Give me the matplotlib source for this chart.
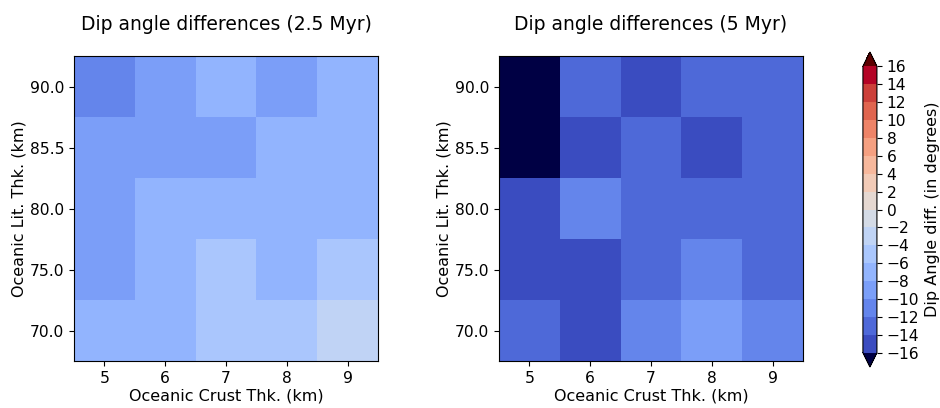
import matplotlib
matplotlib.use('Agg')
import matplotlib.pyplot as plt
import matplotlib.colors as mcolors
import numpy as np

# model grid
crust_thk = [5, 6, 7, 8, 9]
lit_thk = ['70.0', '75.0', '80.0', '85.5', '90.0']

# dip angle differences (deg), rows = lithosphere thickness from 70 up to 90
diff_2p5 = [[-6.9, -7.1, -5.2, -5.0, -3.1],
            [-8.8, -7.0, -5.3, -7.2, -4.9],
            [-8.7, -7.3, -6.8, -7.1, -7.0],
            [-9.1, -8.9, -9.2, -7.1, -6.9],
            [-10.8, -9.0, -6.9, -9.1, -7.0]]
diff_5 = [[-13.1, -14.8, -11.2, -9.3, -11.0],
          [-14.9, -15.1, -13.0, -11.1, -13.2],
          [-14.7, -11.3, -12.9, -13.1, -12.8],
          [-18.5, -14.9, -12.8, -15.2, -13.0],
          [-19.0, -13.1, -14.8, -13.2, -12.9]]

levels = np.arange(-16, 18, 2)
cmap = plt.get_cmap('coolwarm').copy()
cmap.set_under('#000044')
cmap.set_over('#5c0000')
norm = mcolors.BoundaryNorm(levels, cmap.N)

fig = plt.figure(figsize=(9.4, 4.08), dpi=100)
ax1 = fig.add_axes([0.0787, 0.1152, 0.3234, 0.7475])
ax2 = fig.add_axes([0.5309, 0.1152, 0.3234, 0.7475])
cax = fig.add_axes([0.918, 0.1005, 0.0149, 0.772])

for ax, data, title in [(ax1, diff_2p5, 'Dip angle differences (2.5 Myr)'),
                        (ax2, diff_5, 'Dip angle differences (5 Myr)')]:
    im = ax.imshow(np.array(data), cmap=cmap, norm=norm, origin='lower', aspect='auto')
    ax.set_xticks(range(len(crust_thk)))
    ax.set_xticklabels(crust_thk)
    ax.set_yticks(range(len(lit_thk)))
    ax.set_yticklabels(lit_thk)
    ax.tick_params(labelsize=11.2)
    ax.set_xlabel('Oceanic Crust Thk. (km)', fontsize=11.5, labelpad=2)
    ax.set_ylabel('Oceanic Lit. Thk. (km)', fontsize=11.5, labelpad=2)
    ax.set_title(title, fontsize=13.5, pad=19)

cb = fig.colorbar(im, cax=cax, extend='both', ticks=levels)
cb.ax.tick_params(labelsize=11.2)
cb.set_label('Dip Angle diff. (in degrees)', fontsize=11.5, labelpad=4)

plt.savefig('out.png', dpi=100)
